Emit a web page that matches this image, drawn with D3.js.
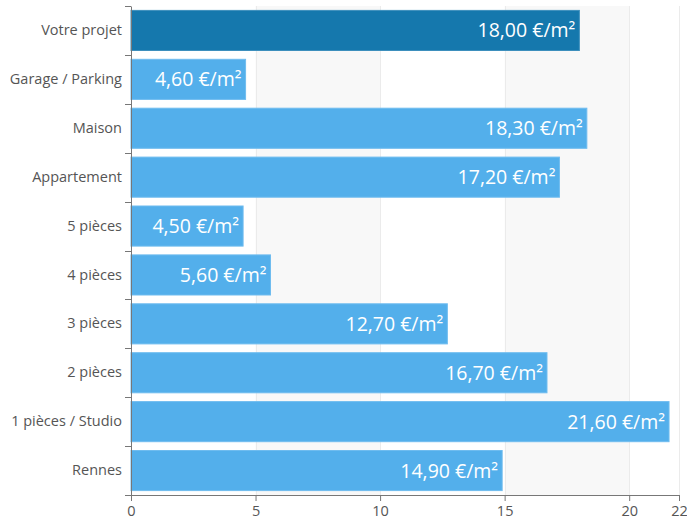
<!DOCTYPE html>
<html lang="fr">
<head>
    <meta charset="UTF-8" />
    <title>Prix au m²</title>
    <script src="https://d3js.org/d3.v7.min.js"></script>
    <style>
        body { margin: 0; background: #fff; font-family: "Open Sans", "Noto Sans", sans-serif; }
    </style>
</head>
<body>
    <script>
        var categories = ["Votre projet", "Garage / Parking", "Maison", "Appartement", "5 pièces",
            "4 pièces", "3 pièces", "2 pièces", "1 pièces / Studio", "Rennes"];
        var values = [18.00, 4.60, 18.30, 17.20, 4.50, 5.60, 12.70, 16.70, 21.60, 14.90];
        var xTicks = [0, 5, 10, 15, 20, 22];

        var w = 687;
        var h = 521;
        var margin = { top: 6, right: 8, bottom: 26, left: 131 };
        var iw = w - margin.left - margin.right;
        var ih = h - margin.top - margin.bottom;

        var svg = d3.select("body")
            .append("svg")
            .attr("width", w)
            .attr("height", h);

        var g = svg.append("g")
            .attr("transform", "translate(" + margin.left + "," + margin.top + ")");

        // Scales
        var xScale = d3.scaleLinear()
            .domain([0, 22])
            .range([0, iw]);

        var yScale = d3.scaleBand()
            .domain(categories)
            .range([0, ih])
            .paddingInner(0.18)
            .paddingOuter(0.09);

        // Alternating background bands
        var bands = [[5, 10], [15, 20]];
        g.selectAll("rect.band")
            .data(bands)
            .enter()
            .append("rect")
            .attr("class", "band")
            .attr("x", function(d) { return xScale(d[0]); })
            .attr("width", function(d) { return xScale(d[1]) - xScale(d[0]); })
            .attr("y", 0)
            .attr("height", ih)
            .attr("fill", "#f8f8f8");

        // Grid lines
        g.selectAll("line.grid")
            .data(xTicks.slice(1))
            .enter()
            .append("line")
            .attr("class", "grid")
            .attr("x1", function(d) { return Math.round(xScale(d)) + 0.5; })
            .attr("x2", function(d) { return Math.round(xScale(d)) + 0.5; })
            .attr("y1", 0)
            .attr("y2", ih)
            .attr("stroke", "#ebebeb");

        // Bars
        g.selectAll("rect.bar")
            .data(values)
            .enter()
            .append("rect")
            .attr("class", "bar")
            .attr("x", 0)
            .attr("y", function(d, i) { return yScale(categories[i]); })
            .attr("width", function(d) { return xScale(d); })
            .attr("height", yScale.bandwidth())
            .attr("fill", function(d, i) { return i === 0 ? "#1578ad" : "#53afeb"; })
            .attr("stroke", function(d, i) { return i === 0 ? "#3d8fbd" : "#6fbcef"; })
            .attr("stroke-width", 1);

        // Value labels
        g.selectAll("text.val")
            .data(values)
            .enter()
            .append("text")
            .attr("class", "val")
            .text(function(d) { return d.toFixed(2).replace(".", ",") + " €/m²"; })
            .attr("x", function(d) { return xScale(d) - 4; })
            .attr("y", function(d, i) { return yScale(categories[i]) + yScale.bandwidth() / 2; })
            .attr("dy", "0.36em")
            .attr("text-anchor", "end")
            .attr("fill", "#fff")
            .style("font-size", "19.5px");

        // Axes
        var yAxis = d3.axisLeft(yScale).tickSize(0).tickPadding(9);
        var yg = g.append("g").call(yAxis);
        yg.select(".domain").attr("stroke", "#777");
        yg.selectAll("text")
            .attr("fill", "#555")
            .style("font-size", "14.5px")
            .style("font-family", "'Open Sans', 'Noto Sans', sans-serif");

        // category boundary ticks
        var bounds = [0].concat(categories.map(function(c) {
            return yScale(c) + yScale.bandwidth() + yScale.step() * yScale.paddingInner() / 2;
        }));
        bounds[bounds.length - 1] = ih;
        g.selectAll("line.ytick")
            .data(bounds)
            .enter()
            .append("line")
            .attr("class", "ytick")
            .attr("x1", -6)
            .attr("x2", 0)
            .attr("y1", function(d) { return Math.round(d) + 0.5; })
            .attr("y2", function(d) { return Math.round(d) + 0.5; })
            .attr("stroke", "#777");

        var xAxis = d3.axisBottom(xScale).tickValues(xTicks).tickSize(6).tickPadding(5)
            .tickFormat(d3.format("d"));
        var xg = g.append("g")
            .attr("transform", "translate(0," + ih + ")")
            .call(xAxis);
        xg.select(".domain").attr("stroke", "#777");
        xg.selectAll(".tick line").attr("stroke", "#777");
        xg.selectAll("text")
            .attr("fill", "#555")
            .style("font-size", "14.5px")
            .style("font-family", "'Open Sans', 'Noto Sans', sans-serif");
    </script>
</body>
</html>
